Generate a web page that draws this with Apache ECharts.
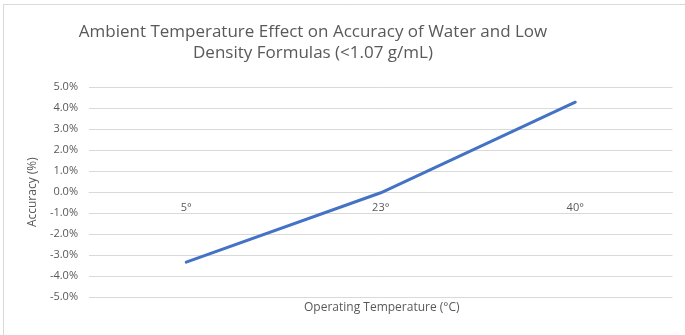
<!DOCTYPE html>
<html>
<head>
<meta charset="utf-8">
<style>
  html, body { margin: 0; padding: 0; background: #ffffff; }
  #chart { width: 685px; height: 335px; }
</style>
<script src="https://cdn.jsdelivr.net/npm/echarts@6/dist/echarts.min.js"></script>
</head>
<body>
<div id="chart"></div>
<script>
// Operating temperatures and the measured accuracy deviation (%)
const temperatures = ['5°', '23°', '40°'];
const accuracy = [-3.34, -0.03, 4.29];
const yTicks = { min: -5, max: 5, step: 1 };

const FONT = '"Open Sans", "Noto Sans", sans-serif';
const GREY_TEXT = '#595959';
const GRID_LINE = '#d9d9d9';

const CHART_H = 335;
const GRID = { left: 89, right: 12.5, top: 87.3, bottom: 38 };
// The category axis sits on the zero line of the value axis
const plotH = CHART_H - GRID.top - GRID.bottom;
const zeroOffset = -plotH * (0 - yTicks.min) / (yTicks.max - yTicks.min);

const chart = echarts.init(document.getElementById('chart'), null, { renderer: 'canvas' });

chart.setOption({
  backgroundColor: '#ffffff',
  animation: false,
  title: {
    text: 'Ambient Temperature Effect on Accuracy of Water and Low\nDensity Formulas (<1.07 g/mL)',
    left: 308,
    top: 17,
    textAlign: 'center',
    textStyle: {
      fontFamily: FONT,
      fontSize: 17,
      fontWeight: 'normal',
      color: GREY_TEXT,
      lineHeight: 21
    }
  },
  graphic: [
    {
      type: 'rect',
      shape: { x: 3.5, y: 4.5, width: 700, height: 400 },
      style: { fill: 'none', stroke: '#d9d9d9', lineWidth: 1 },
      silent: true
    },
    {
      type: 'text',
      left: 304,
      top: 302,
      style: {
        text: 'Operating Temperature (°C)',
        fontFamily: FONT,
        fontSize: 12,
        fill: GREY_TEXT
      }
    }
  ],
  grid: Object.assign({ containLabel: false }, GRID),
  xAxis: {
    type: 'category',
    data: temperatures,
    boundaryGap: true,
    offset: zeroOffset,
    axisLine: { onZero: false, lineStyle: { color: GRID_LINE, width: 1 } },
    axisTick: { show: false },
    axisLabel: {
      margin: 10,
      fontFamily: FONT,
      fontSize: 11,
      color: GREY_TEXT
    },
    splitLine: { show: false }
  },
  yAxis: {
    type: 'value',
    min: yTicks.min,
    max: yTicks.max,
    interval: yTicks.step,
    name: 'Accuracy (%)',
    nameLocation: 'middle',
    nameGap: 50,
    nameTextStyle: { fontFamily: FONT, fontSize: 12, color: GREY_TEXT },
    axisLine: { show: false },
    axisTick: { show: false },
    axisLabel: {
      margin: 11,
      fontFamily: FONT,
      fontSize: 11,
      color: GREY_TEXT,
      formatter: v => v.toFixed(1) + '%'
    },
    splitLine: { lineStyle: { color: GRID_LINE, width: 1 } }
  },
  series: [{
    type: 'line',
    data: accuracy,
    showSymbol: false,
    symbol: 'none',
    lineStyle: { color: '#4472c4', width: 3, cap: 'round' },
    itemStyle: { color: '#4472c4' }
  }]
});
</script>
</body>
</html>
